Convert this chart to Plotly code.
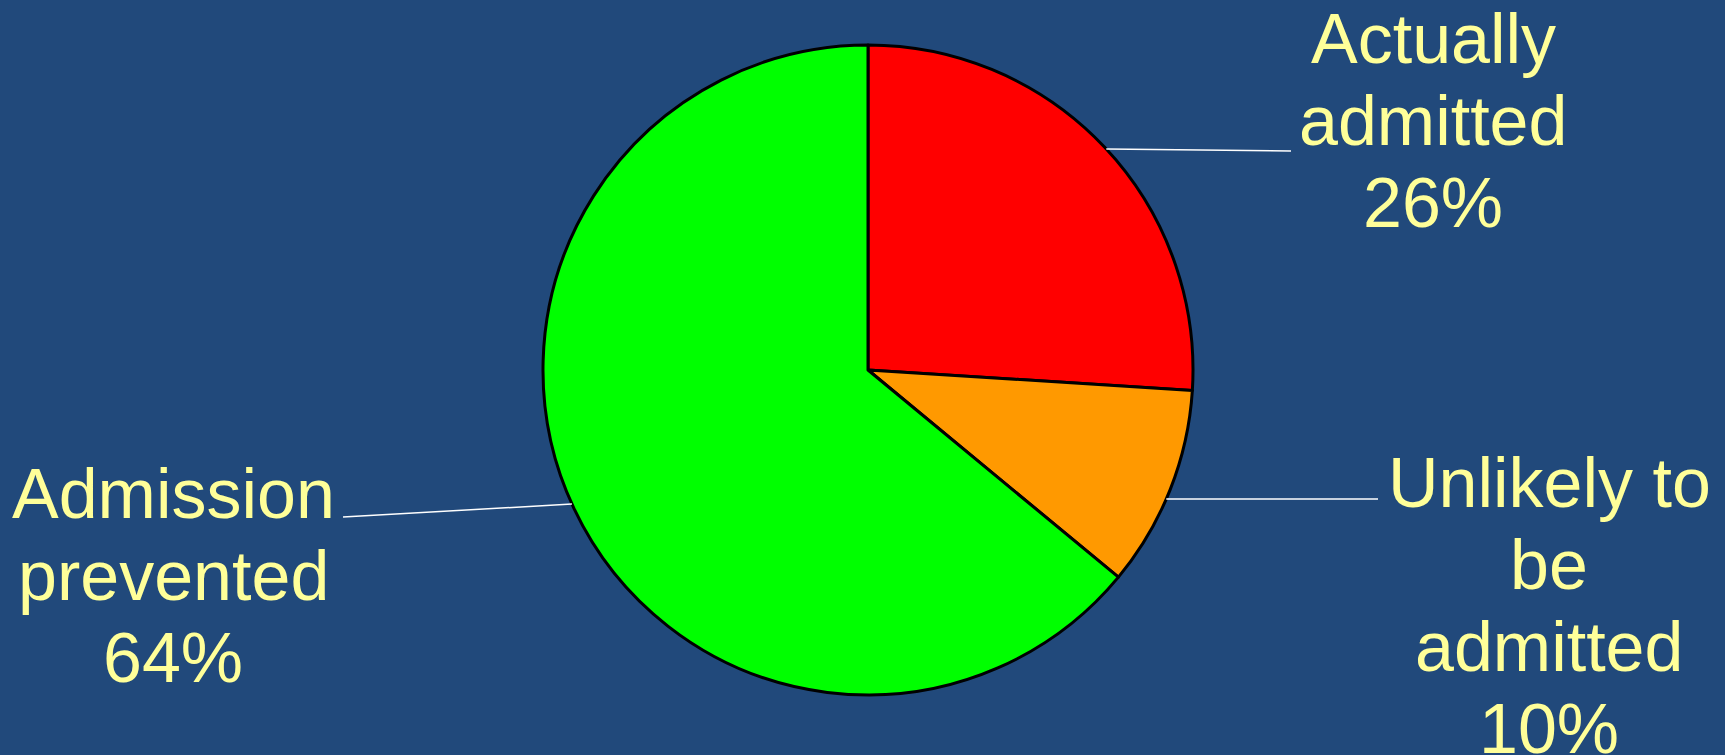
import math
import plotly.graph_objects as go

# ---- data ----
categories = ["Actually admitted", "Unlikely to be admitted", "Admission prevented"]
label_lines = [["Actually", "admitted"], ["Unlikely to", "be", "admitted"], ["Admission", "prevented"]]
values = [26, 10, 64]
colors = ["#FF0000", "#FF9900", "#00FF00"]

# ---- layout / style ----
W, H = 1725, 755
BG = "#21497B"
TXT = "#FFFF99"
FONT = "Liberation Sans, Arial, sans-serif"
FS = 70
LINE_H = 82
CX, CY, R = 868, 370, 325
# label block centre x and first baseline y (pixels), leader start y on rim, leader end (pixels)
label_anchor = [(1433, 63), (1549, 507), (173, 518)]
leader_start_y = [149, 499, 504]
leader_end = [(1291, 151), (1378, 499), (343, 517)]


def px(x):
    return x / W


def py(y):
    return 1 - y / H


fig = go.Figure(go.Pie(
    labels=categories,
    values=values,
    sort=False,
    direction="clockwise",
    rotation=0,
    textinfo="none",
    hoverinfo="label+percent",
    marker=dict(colors=colors, line=dict(color="black", width=3)),
    domain=dict(x=[px(CX - R), px(CX + R)], y=[py(CY + R), py(CY - R)]),
    showlegend=False,
))

total = sum(values)
annotations = []
shapes = []
cum = 0
for i, v in enumerate(values):
    pct = f"{round(100 * v / total)}%"
    lines = label_lines[i] + [pct]
    ax, ay = label_anchor[i]
    for k, t in enumerate(lines):
        base = ay + k * LINE_H
        annotations.append(dict(
            text=t, x=px(ax), y=py(base - 0.3465 * FS), xref="paper", yref="paper",
            xanchor="center", yanchor="middle", showarrow=False,
            font=dict(family=FONT, size=FS, color=TXT),
        ))
    # leader starts on the pie rim, on the side of the slice's mid angle
    ang = 2 * math.pi * (cum + v / 2) / total
    side = 1 if math.sin(ang) >= 0 else -1
    sy = leader_start_y[i]
    sx = CX + side * math.sqrt(max(R * R - (sy - CY) ** 2, 0))
    ex, ey = leader_end[i]
    shapes.append(dict(type="line", xref="paper", yref="paper",
                       x0=px(sx), y0=py(sy), x1=px(ex), y1=py(ey),
                       line=dict(color="white", width=1.5)))
    cum += v

fig.update_layout(
    width=W, height=H,
    margin=dict(l=0, r=0, t=0, b=0),
    paper_bgcolor=BG, plot_bgcolor=BG,
    annotations=annotations, shapes=shapes,
)

fig.write_html(
    "out.html",
    config={"displayModeBar": False},
    post_script="document.body.style.margin='0';document.body.style.overflow='hidden';document.body.style.background='" + BG + "';",
)
